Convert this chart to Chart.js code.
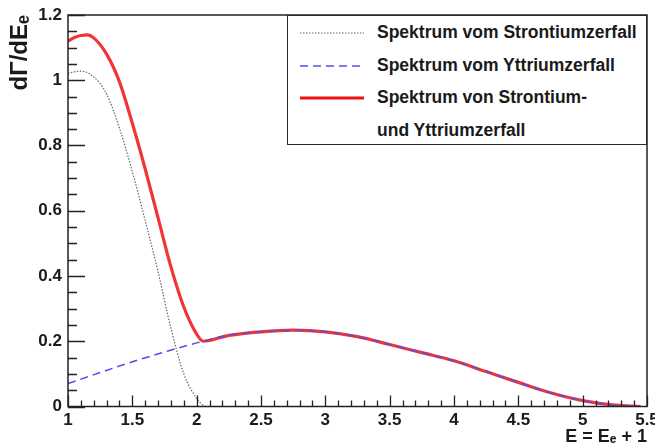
<!DOCTYPE html>
<html><head><meta charset="utf-8">
<script src="https://cdn.jsdelivr.net/npm/chart.js@4/dist/chart.umd.min.js"></script>
<style>
html,body{margin:0;padding:0;background:#fff;}
#wrap{position:relative;width:655px;height:448px;overflow:hidden;}
#legend{position:absolute;left:287px;top:15px;width:360px;height:130px;border:1.6px solid #2a2a2a;background:#fff;box-sizing:border-box;font:bold 17.5px "Liberation Sans",Arial,sans-serif;color:#1a1a1a;}
.row{position:absolute;left:0;width:100%;height:24px;}
.row svg{position:absolute;left:12px;top:4px;}
.row span{position:absolute;left:89px;top:1px;white-space:nowrap;line-height:20px;}
</style>
</head><body>
<div id="wrap">
<canvas id="c" width="655" height="448"></canvas>
<div id="legend">
 <div class="row" style="top:5px"><svg width="64" height="16"><line x1="0" y1="8" x2="64" y2="8" stroke="#666" stroke-width="1.2" stroke-dasharray="1.5,1.5"/></svg><span>Spektrum vom Strontiumzerfall</span></div>
 <div class="row" style="top:38px"><svg width="64" height="16"><line x1="0" y1="8" x2="64" y2="8" stroke="#5050ee" stroke-width="1.5" stroke-dasharray="8,5"/></svg><span>Spektrum vom Yttriumzerfall</span></div>
 <div class="row" style="top:70px"><svg width="64" height="16"><line x1="0" y1="8" x2="64" y2="8" stroke="#ee1111" stroke-width="3.2"/></svg><span>Spektrum von Strontium-</span></div>
 <div class="row" style="top:103px"><span>und Yttriumzerfall</span></div>
</div>
</div>
<script>
// Strontium spectrum (dotted)
const srE   = [1.0, 1.1, 1.2, 1.3, 1.4, 1.5, 1.6, 1.7, 1.8, 1.9, 2.0, 2.05, 2.07];
const srVal = [1.022, 1.028, 1.010, 0.958, 0.853, 0.720, 0.570, 0.413, 0.240, 0.100, 0.025, 0.004, 0.0];
// Yttrium spectrum (dashed)
const yE   = [1.0, 1.25, 1.5, 1.75, 2.0, 2.25, 2.5, 2.75, 3.0, 3.25, 3.5, 3.75, 4.0, 4.25, 4.5, 4.75, 5.0, 5.25, 5.45];
const yVal = [0.070, 0.104, 0.137, 0.167, 0.195, 0.218, 0.229, 0.234, 0.229, 0.214, 0.190, 0.165, 0.140, 0.107, 0.074, 0.042, 0.018, 0.004, 0.0];
// Combined spectrum (solid red)
const sumE   = [1.0, 1.05, 1.1, 1.15, 1.2, 1.3, 1.4, 1.5, 1.6, 1.7, 1.8, 1.9, 2.0, 2.05, 2.25, 2.5, 2.75, 3.0, 3.25, 3.5, 3.75, 4.0, 4.25, 4.5, 4.75, 5.0, 5.25, 5.45];
const sumVal = [1.120, 1.131, 1.137, 1.139, 1.130, 1.080, 0.995, 0.868, 0.728, 0.578, 0.428, 0.305, 0.222, 0.200, 0.218, 0.229, 0.234, 0.229, 0.214, 0.190, 0.165, 0.140, 0.107, 0.074, 0.042, 0.018, 0.004, 0.0];
// Tick labels
const xTickVals = [1, 1.5, 2, 2.5, 3, 3.5, 4, 4.5, 5, 5.5];
const xTickLabels = ['1', '1.5', '2', '2.5', '3', '3.5', '4', '4.5', '5', '5.5'];
const yTickVals = [0, 0.2, 0.4, 0.6, 0.8, 1.0, 1.2];
const yTickLabels = ['0', '0.2', '0.4', '0.6', '0.8', '1', '1.2'];

const pts = (xs, ys) => xs.map((x, i) => ({x: x, y: ys[i]}));
const FONT = '"Liberation Sans", Arial, sans-serif';

const framePlugin = {
  id: 'frame',
  afterDatasetsDraw(chart) {
    const {ctx, chartArea: a, scales: {x, y}} = chart;
    ctx.save();
    ctx.strokeStyle = '#222';
    ctx.lineWidth = 1.5;
    ctx.strokeRect(a.left, a.top, a.right - a.left, a.bottom - a.top);
    ctx.lineWidth = 1.3;
    ctx.beginPath();
    // y ticks: minor every 0.05, major every 0.2
    for (let i = 0; i <= 24; i++) {
      const v = i * 0.05;
      const py = Math.round(y.getPixelForValue(v)) + 0.5;
      const len = (i % 4 === 0) ? 17 : 9;
      ctx.moveTo(a.left, py); ctx.lineTo(a.left + len, py);
    }
    // x ticks: minor every 0.1, major every 0.5
    for (let i = 0; i <= 45; i++) {
      const v = 1 + i * 0.1;
      const px = Math.round(x.getPixelForValue(v)) + 0.5;
      const len = (i % 5 === 0) ? 11 : 6;
      ctx.moveTo(px, a.bottom); ctx.lineTo(px, a.bottom - len);
    }
    ctx.stroke();
    ctx.restore();
  }
};

new Chart(document.getElementById('c'), {
  type: 'scatter',
  data: {
    datasets: [
      {label: 'Spektrum vom Strontiumzerfall', data: pts(srE, srVal), showLine: true, pointRadius: 0,
       borderColor: '#666', borderWidth: 1.2, borderDash: [1.5, 1.5], cubicInterpolationMode: 'monotone'},
      {label: 'Spektrum vom Yttriumzerfall', data: pts(yE, yVal), showLine: true, pointRadius: 0,
       borderColor: '#5050ee', borderWidth: 1.5, borderDash: [8, 5], cubicInterpolationMode: 'monotone'},
      {label: 'Spektrum von Strontium- und Yttriumzerfall', data: pts(sumE, sumVal), showLine: true, pointRadius: 0,
       borderColor: 'rgba(238,17,17,0.85)', borderWidth: 3.2, cubicInterpolationMode: 'monotone'}
    ]
  },
  options: {
    responsive: false,
    animation: false,
    layout: {padding: {left: 0, right: 8, top: 15, bottom: 0}},
    plugins: {legend: {display: false}, tooltip: {enabled: false}},
    scales: {
      x: {
        type: 'linear', min: 1, max: 5.5,
        grid: {display: false, drawTicks: false},
        border: {display: false},
        afterBuildTicks: s => { s.ticks = xTickVals.map(v => ({value: v})); },
        afterFit: s => { s.height = 41.5; s.paddingLeft = 0; s.paddingRight = 0; },
        ticks: {color: '#1a1a1a', padding: 4, maxRotation: 0, autoSkip: false,
          font: {family: FONT, size: 17, weight: 'bold'},
          callback: (v) => { const i = xTickVals.indexOf(v); return i >= 0 ? xTickLabels[i] : ''; }},
        title: {display: true, text: 'E = Eₑ + 1', align: 'end', color: '#1a1a1a', padding: 0,
          font: {family: FONT, size: 18, weight: 'bold'}}
      },
      y: {
        type: 'linear', min: 0, max: 1.2,
        grid: {display: false, drawTicks: false},
        border: {display: false},
        afterBuildTicks: s => { s.ticks = yTickVals.map(v => ({value: v})); },
        afterFit: s => { s.width = 68; s.paddingTop = 0; s.paddingBottom = 0; },
        ticks: {color: '#1a1a1a', padding: 6, autoSkip: false,
          font: {family: FONT, size: 17, weight: 'bold'},
          callback: (v) => { const i = yTickVals.indexOf(v); return i >= 0 ? yTickLabels[i] : ''; }},
        title: {display: true, text: 'dΓ/dEₑ', align: 'end', color: '#1a1a1a', padding: {top: 6},
          font: {family: FONT, size: 24, weight: 'bold'}}
      }
    }
  },
  plugins: [framePlugin]
});
</script>
</body></html>
